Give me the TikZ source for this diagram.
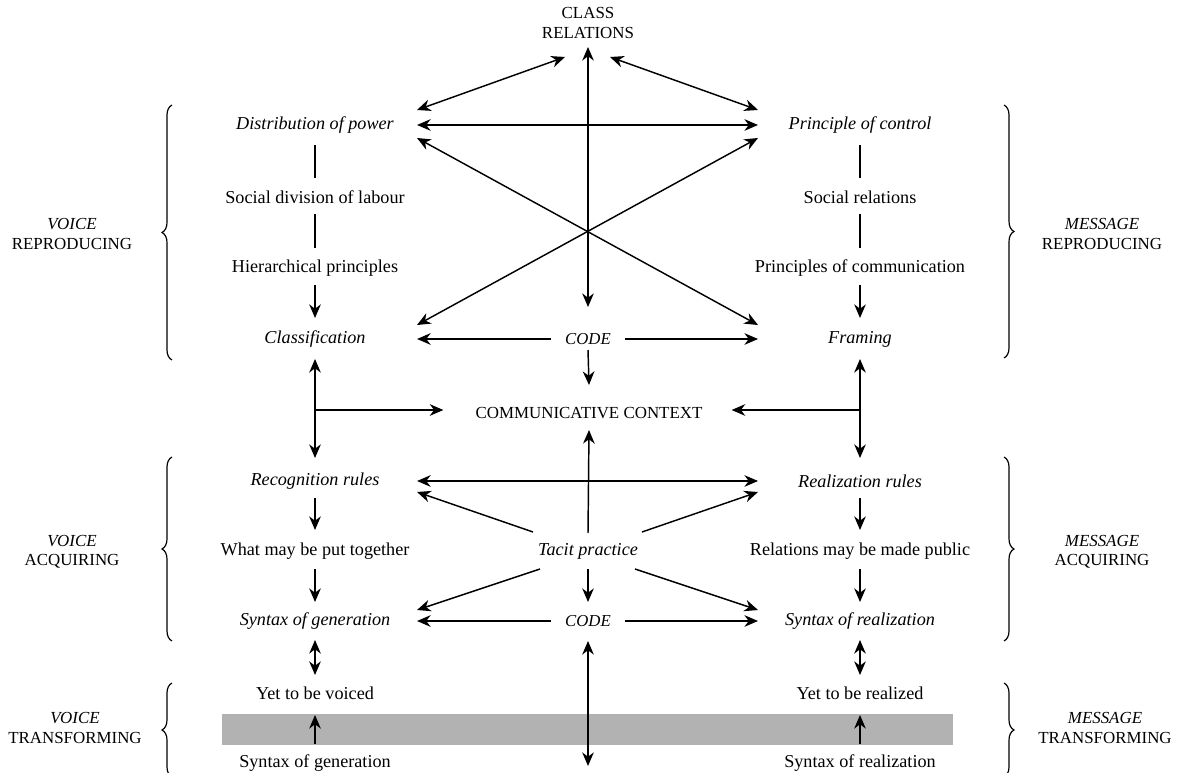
\documentclass[tikz,border=0pt]{standalone}
\usepackage{fontspec}
\setmainfont{Liberation Serif}
\usetikzlibrary{arrows.meta, calc, decorations.pathreplacing}
\tikzset{
  txt/.style={font=\fontsize{10}{12}\selectfont, inner sep=1pt},
  itx/.style={txt, font=\fontsize{10}{12}\selectfont\itshape},
  capl/.style={font=\fontsize{9.3}{10.5}\selectfont, align=center, inner sep=1pt},
  codebox/.style={font=\fontsize{9.2}{11}\selectfont\itshape, inner sep=1pt, inner xsep=7.5pt},
  hd/.tip={Stealth[length=7.5pt, width=6.4pt, inset=2.4pt]},
  one/.style={line width=0.8pt, -hd},
  two/.style={line width=0.8pt, hd-hd},
  stem/.style={line width=0.65pt},
  brc/.style={decorate, decoration={brace, amplitude=5.5pt}, line width=0.65pt},
}
\begin{document}
\begin{tikzpicture}[x=0.55pt, y=-0.55pt]
  \path[use as bounding box] (0,0) rectangle (1178,773);
  % grey band
  \fill[black!30] (222,714) rectangle (953,745);
  % column guides
  \coordinate (lx) at (417,0);
  \coordinate (rx) at (758,0);
  \coordinate (bot) at (588,766);
  % top
  \node[capl] (cls) at (588,23) {CLASS\\RELATIONS};
  % left column
  \node[itx] (dist)  at (315,125) {Distribution of power};
  \node[txt] (sdl)   at (315,197) {Social division of labour};
  \node[txt] (hier)  at (315,268) {Hierarchical principles};
  \node[itx] (clsf)  at (315,339) {Classification};
  \node[itx] (recog) at (315,481) {Recognition rules};
  \node[txt] (what)  at (315,551) {What may be put together};
  \node[itx] (syng)  at (315,621) {Syntax of generation};
  \node[txt] (yetv)  at (315,693) {Yet to be voiced};
  \node[txt] (syngb) at (315,763) {Syntax of generation};
  % centre
  \node[codebox] (codea) at (588,339) {CODE};
  \node[capl] (ctx)   at (589,413) {COMMUNICATIVE CONTEXT};
  \node[itx] (tacit) at (588,551) {Tacit practice};
  \node[codebox] (codeb) at (588,621) {CODE};
  % right column
  \node[itx] (ctrl)  at (860,125) {Principle of control};
  \node[txt] (srel)  at (860,197) {Social relations};
  \node[txt] (pcom)  at (860,268) {Principles of communication};
  \node[itx] (fram)  at (860,339) {Framing};
  \node[itx] (real)  at (860,481) {Realization rules};
  \node[txt] (rel)   at (860,551) {Relations may be made public};
  \node[itx] (synr)  at (860,621) {Syntax of realization};
  \node[txt] (yetr)  at (860,693) {Yet to be realized};
  \node[txt] (synrb) at (860,763) {Syntax of realization};
  % side labels
  \node[capl] (vrep) at (72,234)   {\textit{VOICE}\\REPRODUCING};
  \node[capl] (mrep) at (1102,234) {\textit{MESSAGE}\\REPRODUCING};
  \node[capl] (vacq) at (72,552)   {\textit{VOICE}\\ACQUIRING};
  \node[capl] (macq) at (1102,552) {\textit{MESSAGE}\\ACQUIRING};
  \node[capl] (vtra) at (75,728)   {\textit{VOICE}\\TRANSFORMING};
  \node[capl] (mtra) at (1105,728) {\textit{MESSAGE}\\TRANSFORMING};
  % braces
  \draw[brc] (172,360) -- (172,105);
  \draw[brc] (1004,105) -- (1004,358);
  \draw[brc] (172,641) -- (172,457);
  \draw[brc] (1004,457) -- (1004,641);
  \draw[brc] (172,777) -- (172,683);
  \draw[brc] (1004,683) -- (1004,777);

  % class relations
  \draw[two] ($(cls)+(-23,34)$) -- ($(dist -| lx)+(0,-15)$);
  \draw[two] ($(cls)+(22,34)$) -- ($(ctrl -| rx)+(0,-15)$);
  \draw[two] ($(cls)+(0,24)$) -- ($(codea)+(0,-32)$);
  \draw[two] (dist -| lx) -- (ctrl -| rx);
  \draw[two] ($(dist -| lx)+(0,13)$) -- ($(fram -| rx)+(0,-14)$);
  \draw[two] ($(clsf -| lx)+(0,-14)$) -- ($(ctrl -| rx)+(0,13)$);
  \draw[one] (codea.west) -- (clsf -| lx);
  \draw[one] (codea.east) -- (fram -| rx);
  \draw[one] ($(codea)+(0,11)$) -- ($(ctx)+(0,-28)$);
  % reproducing columns
  \draw[stem] ($(dist)+(0,20)$) -- ($(sdl)+(0,-19)$);
  \draw[stem] ($(sdl)+(0,17)$) -- ($(hier)+(0,-20)$);
  \draw[one] ($(hier)+(0,17)$) -- ($(clsf)+(0,-21)$);
  \draw[stem] ($(ctrl)+(0,20)$) -- ($(srel)+(0,-19)$);
  \draw[stem] ($(srel)+(0,17)$) -- ($(pcom)+(0,-20)$);
  \draw[one] ($(pcom)+(0,17)$) -- ($(fram)+(0,-21)$);
  % into the context
  \draw[two] ($(clsf)+(0,20)$) -- ($(recog)+(0,-23)$);
  \draw[two] ($(fram)+(0,20)$) -- ($(real)+(0,-23)$);
  \draw[one] ($(clsf |- ctx)+(0,-3)$) -- ($(ctx.west)+(-30,-3)$);
  \draw[one] ($(fram |- ctx)+(0,-3)$) -- ($(ctx.east)+(27,-3)$);
  % acquiring
  \draw[two] (recog -| lx) -- (real -| rx);
  \draw[one] ($(tacit)+(-55,-19)$) -- ($(recog -| lx)+(0,11)$);
  \draw[one] ($(tacit)+(54,-19)$) -- ($(real -| rx)+(0,11)$);
  \draw[one] ($(tacit)+(-48,18)$) -- ($(syng -| lx)+(0,-11)$);
  \draw[one] ($(tacit)+(47,18)$) -- ($(synr -| rx)+(0,-11)$);
  \draw[one] ($(tacit)+(0,-18)$) -- ($(ctx)+(0,17)$);
  \draw[one] ($(tacit)+(0,18)$) -- ($(codeb)+(0,-19)$);
  \draw[one] (codeb.west) -- (syng -| lx);
  \draw[one] (codeb.east) -- (synr -| rx);
  \draw[one] ($(recog)+(0,17)$) -- ($(what)+(0,-21)$);
  \draw[one] ($(what)+(0,18)$) -- ($(syng)+(0,-19)$);
  \draw[one] ($(real)+(0,17)$) -- ($(rel)+(0,-21)$);
  \draw[one] ($(rel)+(0,18)$) -- ($(synr)+(0,-19)$);
  % transforming
  \draw[two] ($(syng)+(0,19)$) -- ($(yetv)+(0,-18)$);
  \draw[two] ($(synr)+(0,19)$) -- ($(yetr)+(0,-18)$);
  \draw[one] ($(syngb)+(0,-19)$) -- ($(yetv)+(0,22)$);
  \draw[one] ($(synrb)+(0,-19)$) -- ($(yetr)+(0,22)$);
  \draw[two] ($(codeb)+(0,20)$) -- (bot);
\end{tikzpicture}
\end{document}
